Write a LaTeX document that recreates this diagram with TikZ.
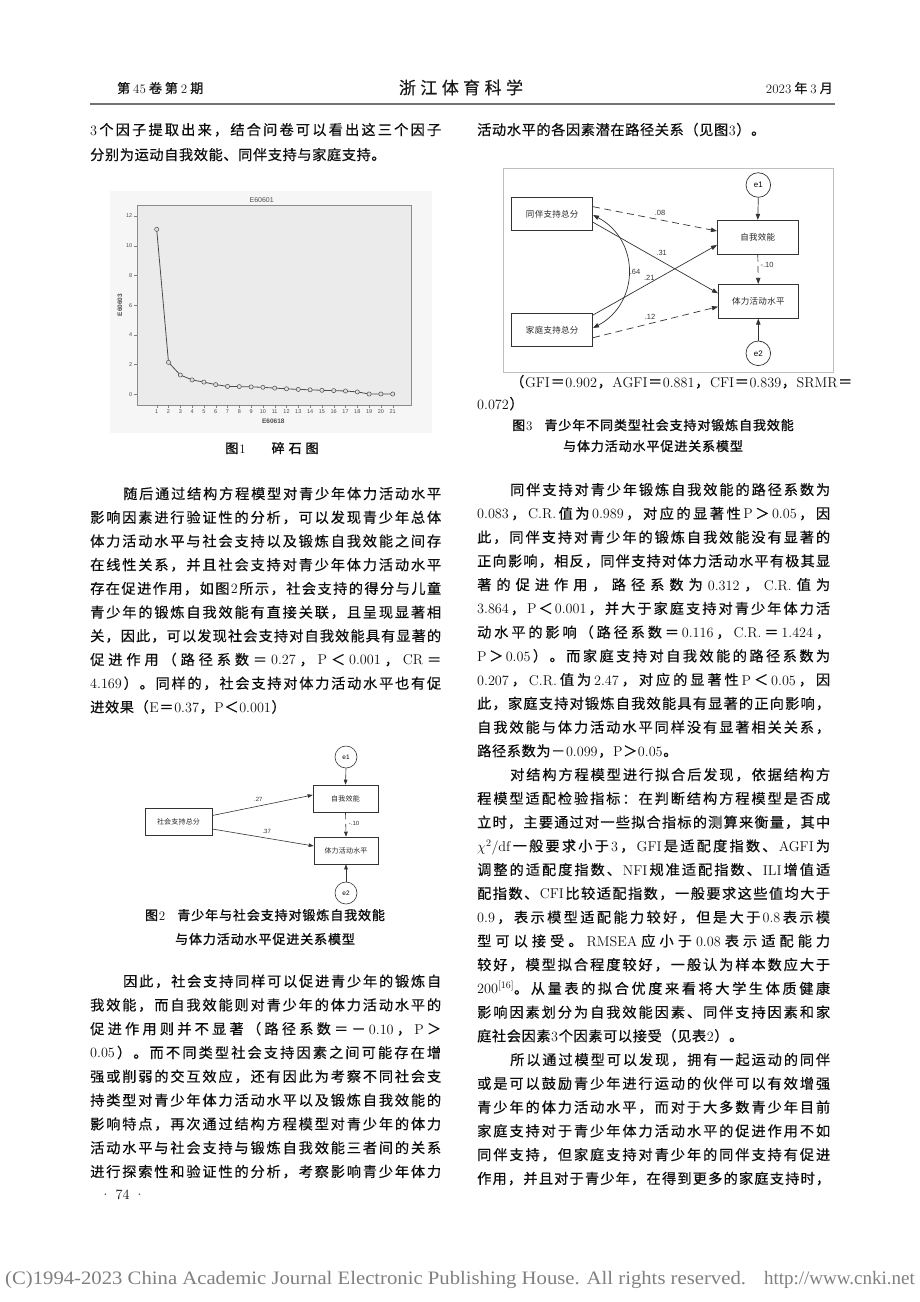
\documentclass[tikz,border=0pt]{standalone}
\usepackage{fontspec}
\usepackage{graphicx}
\usetikzlibrary{arrows.meta,calc}
\newfontfamily\cjk{Noto Sans CJK SC}[FakeBold=0.5]
\newfontfamily\cjkplain{Noto Sans CJK SC}
\newfontfamily\cjkcap{Noto Sans CJK SC}[FakeBold=1.3]
\newfontfamily\arialf{Liberation Sans}
\newfontfamily\timesf{Liberation Serif}
% --- automatic CJK / Latin font switching with stretchable inter-character glue
\XeTeXinterchartokenstate=1
\chardef\cjkcls=50
\newcount\ccnt
\ccnt="3000 \loop\XeTeXcharclass\ccnt=\cjkcls \advance\ccnt by 1 \ifnum\ccnt<"3040 \repeat
\ccnt="4E00 \loop\XeTeXcharclass\ccnt=\cjkcls \advance\ccnt by 1 \ifnum\ccnt<"A000 \repeat
\ccnt="FF00 \loop\XeTeXcharclass\ccnt=\cjkcls \advance\ccnt by 1 \ifnum\ccnt<"FFF0 \repeat
\newdimen\cjkgapd \cjkgapd=0.6pt
\def\cjkf{\cjk}
\def\latf{\rmfamily}
\XeTeXinterchartoks\cjkcls\cjkcls={\hskip\cjkgapd plus 1fil\relax}
\XeTeXinterchartoks 0 \cjkcls={\hskip\cjkgapd plus 1fil\relax\cjkf}
\XeTeXinterchartoks\cjkcls 0 ={\hskip\cjkgapd plus 1fil\relax\latf}
\XeTeXinterchartoks 4095 \cjkcls={\cjkf}
\XeTeXinterchartoks\cjkcls 4095 ={\latf}
\newcount\lnc
\newcommand\bodyfont{\fontsize{14.2}{17}\selectfont}
\newcommand\capfont{\fontsize{13}{15}\selectfont\def\cjkf{\cjkcap}\cjkgapd=0.9pt}
\newcommand\hdfont{\fontsize{13}{15}\selectfont\def\cjkf{\cjkcap}\cjkgapd=3pt}
\newcommand\figcnA{\fontsize{7}{8}\selectfont\def\cjkf{\cjkplain}\cjkgapd=0.2pt}
\newcommand\figcnB{\fontsize{8.5}{10}\selectfont\def\cjkf{\cjkplain}\cjkgapd=0.3pt}
\newcommand\jl[4]{\global\advance\lnc by 1 \node[txt] (t\the\lnc) at (#1,#2+5) {\hbox to #3pt{#4}};}
\newcommand\nl[3]{\global\advance\lnc by 1 \node[txt] (t\the\lnc) at (#1,#2+5) {\hbox{#3}};}
\definecolor{plotbg}{HTML}{EBEBEB}
\definecolor{imgbg}{HTML}{F6F6F6}
\tikzset{
  txt/.style={anchor=base west,inner sep=0pt,text=black!95,font=\bodyfont},
  ctxt/.style={anchor=base,inner sep=0pt,text=black!95},
  fboxA/.style={draw=black!80,line width=0.6pt,inner sep=0pt,font=\figcnA,text=black!85},
  fboxB/.style={draw=black!80,line width=0.7pt,inner sep=0pt,font=\figcnB,text=black!85},
  ecircA/.style={draw=black!80,circle,line width=0.6pt,inner sep=0pt,minimum size=22pt,font=\arialf\fontsize{6.5}{7}\selectfont},
  ecircB/.style={draw=black!80,circle,line width=0.7pt,inner sep=0pt,minimum size=24.6pt,font=\arialf\fontsize{8}{9}\selectfont},
  arrA/.style={-{Triangle[length=5pt,width=3.6pt]},line width=0.6pt,draw=black!80},
  arrB/.style={-{Triangle[length=6pt,width=4.4pt]},line width=0.7pt,draw=black!80},
  dsh/.style={dash pattern=on 7pt off 4.5pt},
  labA/.style={inner sep=0pt,font=\arialf\fontsize{6}{7}\selectfont,text=black!80},
  labB/.style={inner sep=0pt,font=\arialf\fontsize{7.5}{8}\selectfont,text=black!80},
  scr/.style={inner sep=0pt,font=\arialf\fontsize{5.5}{6}\selectfont,text=black!70},
}
\begin{document}
\begin{tikzpicture}[x=1pt,y=-1pt]
\useasboundingbox (0,0) rectangle (920,1302);
\fill[white] (0,0) rectangle (920,1302);
% ---------------- header
\node[anchor=base west,inner sep=0pt,text=black!90] (hl) at (117,93) {\hdfont 第45卷第2期};
\node[anchor=base,inner sep=0pt,text=black!90] (ht) at (461,94) {\fontsize{17}{20}\selectfont\hbox to 124pt{浙江体育科学}};
\node[anchor=base east,inner sep=0pt,text=black!90] (hr) at (833,93) {\hdfont 2023年3月};
\draw[black!55,line width=1.2pt] (90,104) -- (835,104);
% ---------------- left column
\jl{90}{130}{351}{3个因子提取出来，结合问卷可以看出这三个因子}
\nl{90}{155}{分别为运动自我效能、同伴支持与家庭支持。}
% scree plot
\fill[imgbg] (110,191) rectangle (432,433);
\draw[black!45,fill=plotbg,line width=0.5pt] (137.3,205) rectangle (411.7,405);
\node[scr,font=\arialf\fontsize{7}{8}\selectfont] (st) at (261.7,200) {E60601};
\node[scr,font=\arialf\bfseries\fontsize{6.5}{8}\selectfont] (sx) at (273.3,421.7) {E60618};
\node[scr,font=\arialf\bfseries\fontsize{6.5}{8}\selectfont,rotate=90] (sy) at (120,305) {E60603};
\foreach \v in {0,2,...,12} {
  \draw[black!50,line width=0.4pt] (134,394.3-\v*14.86) -- (137.3,394.3-\v*14.86);
  \node[scr,anchor=east] (yt\v) at (132.5,394.3-\v*14.86) {\v};
}
\foreach \i in {1,...,21} {
  \draw[black!50,line width=0.4pt] (156.7+\i*11.8-11.8,405) -- (156.7+\i*11.8-11.8,408);
  \node[scr] (xt\i) at (156.7+\i*11.8-11.8,412) {\i};
}
\draw[black!70,line width=0.8pt] (156.7,229.35) -- (168.5,362.35) -- (180.3,375.0) -- (192.1,379.9) -- (203.9,382.1) -- (215.7,384.6) -- (227.5,386.4) -- (239.3,386.6) -- (251.1,386.9) -- (262.9,387.3) -- (274.7,388.1) -- (286.5,388.8) -- (298.3,389.4) -- (310.1,389.8) -- (321.9,390.3) -- (333.7,390.6) -- (345.5,391.0) -- (357.3,391.9) -- (369.1,394.0) -- (380.9,394.0) -- (392.7,394.0);
\foreach \x/\y in {156.7/229.35,168.5/362.35,180.3/375.0,192.1/379.9,203.9/382.1,215.7/384.6,227.5/386.4,239.3/386.6,251.1/386.9,262.9/387.3,274.7/388.1,286.5/388.8,298.3/389.4,310.1/389.8,321.9/390.3,333.7/390.6,345.5/391.0,357.3/391.9,369.1/394.0,380.9/394.0,392.7/394.0}
  \draw[black!70,fill=black!12,line width=0.5pt] (\x,\y) circle (2.1);
\node[ctxt,font=\capfont] (c1) at (272,453) {图1\hspace{26pt}{\cjkgapd=4pt 碎石图}};
% paragraph
\jl{123}{494}{318}{随后通过结构方程模型对青少年体力活动水平}
\jl{90}{517.7}{351}{影响因素进行验证性的分析，可以发现青少年总体}
\jl{90}{541.4}{351}{体力活动水平与社会支持以及锻炼自我效能之间存}
\jl{90}{565.1}{351}{在线性关系，并且社会支持对青少年体力活动水平}
\jl{90}{588.8}{351}{存在促进作用，如图2所示，社会支持的得分与儿童}
\jl{90}{612.5}{351}{青少年的锻炼自我效能有直接关联，且呈现显著相}
\jl{90}{636.2}{351}{关，因此，可以发现社会支持对自我效能具有显著的}
\jl{90}{659.9}{351}{促进作用（路径系数＝0.27，P＜0.001，CR＝}
\jl{90}{683.6}{351}{4.169）。同样的，社会支持对体力活动水平也有促}
\nl{90}{707.3}{进效果（E＝0.37，P＜0.001）}
% figure 2
\node[fboxA,minimum width=67pt,minimum height=27pt] (sg) at (178.5,821.5) {社会支持总分};
\node[fboxA,minimum width=65pt,minimum height=27pt] (se) at (345.5,798.5) {自我效能};
\node[fboxA,minimum width=64pt,minimum height=27pt] (sp) at (346,850.5) {体力活动水平};
\node[ecircA] (e1a) at (346,757) {e1};
\node[ecircA] (e2a) at (346,893) {e2};
\draw[arrA] ($(sg.east)+(0,-6)$) -- ($(se.west)+(0,-3.5)$);
\draw[arrA] ($(sg.east)+(0,7.5)$) -- ($(sp.west)+(0,-4.5)$);
\draw[arrA,dsh] (se.south) -- (sp.north);
\draw[arrA] (e1a.south) -- (se.north);
\draw[arrA] (e2a.north) -- (sp.south);
\node[labA] (l27) at (258.3,799.3) {.27};
\node[labA] (l37) at (266.7,831.7) {.37};
\node[labA] (l10a) at (354,823) {-.10};
\node[ctxt,font=\capfont] (c2a) at (265,920) {图2\hspace{12pt}青少年与社会支持对锻炼自我效能};
\node[ctxt,font=\capfont] (c2b) at (265,944) {与体力活动水平促进关系模型};
% paragraph
\jl{123}{981.5}{318}{因此，社会支持同样可以促进青少年的锻炼自}
\jl{90}{1005.3}{351}{我效能，而自我效能则对青少年的体力活动水平的}
\jl{90}{1029.1}{351}{促进作用则并不显著（路径系数＝－0.10，P＞}
\jl{90}{1052.9}{351}{0.05）。而不同类型社会支持因素之间可能存在增}
\jl{90}{1076.7}{351}{强或削弱的交互效应，还有因此为考察不同社会支}
\jl{90}{1100.5}{351}{持类型对青少年体力活动水平以及锻炼自我效能的}
\jl{90}{1124.3}{351}{影响特点，再次通过结构方程模型对青少年的体力}
\jl{90}{1148.1}{351}{活动水平与社会支持与锻炼自我效能三者间的关系}
\jl{90}{1171.9}{351}{进行探索性和验证性的分析，考察影响青少年体力}
\nl{100}{1194}{· 74 ·}
% ---------------- right column
\nl{477}{130}{活动水平的各因素潜在路径关系（见图3）。}
% figure 3
\draw[black!25,line width=0.5pt] (503,168) rectangle (833,372);
\node[fboxB,minimum width=81pt,minimum height=33.4pt] (tb) at (552.2,214) {同伴支持总分};
\node[fboxB,minimum width=81pt,minimum height=33.4pt] (jt) at (552.2,330) {家庭支持总分};
\node[fboxB,minimum width=81pt,minimum height=34pt] (zw) at (757.8,237.2) {自我效能};
\node[fboxB,minimum width=80pt,minimum height=34pt] (tl) at (758.3,301.3) {体力活动水平};
\node[ecircB] (e1b) at (758.3,185) {e1};
\node[ecircB] (e2b) at (758.3,353.3) {e2};
\draw[arrB,dsh] ($(tb.east)+(0,-7.3)$) -- ($(zw.west)+(0,-6.2)$);
\draw[arrB] ($(tb.east)+(0,8.3)$) -- ($(tl.west)+(0,-8)$);
\draw[arrB] ($(jt.east)+(0,-15)$) -- ($(zw.west)+(0,7.8)$);
\draw[arrB,dsh] ($(jt.east)+(0,7.7)$) -- ($(tl.west)+(0,5.4)$);
\draw[{Triangle[length=6pt,width=4.4pt]}-{Triangle[length=6pt,width=4.4pt]},line width=0.7pt,draw=black!80]
  ($(tb.east)+(0,1)$) .. controls (640,240) and (640,303) .. ($(jt.east)+(0,-2)$);
\draw[arrB,dsh] (zw.south) -- (tl.north);
\draw[arrB] (e1b.south) -- (zw.north);
\draw[arrB] (e2b.north) -- (tl.south);
\node[labB] (l08) at (660,213.3) {.08};
\node[labB] (l31) at (661.7,253.3) {.31};
\node[labB] (l21) at (649.3,277.7) {.21};
\node[labB] (l12) at (650,316.7) {.12};
\node[labB] (l64) at (635,272.3) {.64};
\node[labB] (l10b) at (767,265) {-.10};
\jl{510}{382}{320}{（GFI＝0.902，AGFI＝0.881，CFI＝0.839，SRMR＝}
\nl{477}{404}{0.072）}
\node[ctxt,font=\capfont] (c3a) at (653,430) {图3\hspace{12pt}青少年不同类型社会支持对锻炼自我效能};
\node[ctxt,font=\capfont] (c3b) at (653,451) {与体力活动水平促进关系模型};
% paragraphs
\jl{510}{490}{320}{同伴支持对青少年锻炼自我效能的路径系数为}
\jl{477}{513.75}{353}{0.083，C.R.值为0.989，对应的显著性P＞0.05，因}
\jl{477}{537.5}{353}{此，同伴支持对青少年的锻炼自我效能没有显著的}
\jl{477}{561.25}{353}{正向影响，相反，同伴支持对体力活动水平有极其显}
\jl{477}{585}{353}{著的促进作用，路径系数为0.312，C.R.值为}
\jl{477}{608.75}{353}{3.864，P＜0.001，并大于家庭支持对青少年体力活}
\jl{477}{632.5}{353}{动水平的影响（路径系数＝0.116，C.R.＝1.424，}
\jl{477}{656.25}{353}{P＞0.05）。而家庭支持对自我效能的路径系数为}
\jl{477}{680}{353}{0.207，C.R.值为2.47，对应的显著性P＜0.05，因}
\jl{477}{703.75}{353}{此，家庭支持对锻炼自我效能具有显著的正向影响，}
\jl{477}{727.5}{353}{自我效能与体力活动水平同样没有显著相关关系，}
\nl{477}{751.25}{路径系数为－0.099，P＞0.05。}
\jl{510}{775}{320}{对结构方程模型进行拟合后发现，依据结构方}
\jl{477}{798.75}{353}{程模型适配检验指标：在判断结构方程模型是否成}
\jl{477}{822.5}{353}{立时，主要通过对一些拟合指标的测算来衡量，其中}
\jl{477}{846.25}{353}{$\chi^2$/df一般要求小于3，GFI是适配度指数、AGFI为}
\jl{477}{870}{353}{调整的适配度指数、NFI规准适配指数、ILI增值适}
\jl{477}{893.75}{353}{配指数、CFI比较适配指数，一般要求这些值均大于}
\jl{477}{917.5}{353}{0.9，表示模型适配能力较好，但是大于0.8表示模}
\jl{477}{941.25}{353}{型可以接受。RMSEA应小于0.08表示适配能力}
\jl{477}{965}{353}{较好，模型拟合程度较好，一般认为样本数应大于}
\jl{477}{988.75}{353}{200\textsuperscript{[16]}。从量表的拟合优度来看将大学生体质健康}
\jl{477}{1012.5}{353}{影响因素划分为自我效能因素、同伴支持因素和家}
\nl{477}{1036.25}{庭社会因素3个因素可以接受（见表2）。}
\jl{510}{1060}{320}{所以通过模型可以发现，拥有一起运动的同伴}
\jl{477}{1083.75}{353}{或是可以鼓励青少年进行运动的伙伴可以有效增强}
\jl{477}{1107.5}{353}{青少年的体力活动水平，而对于大多数青少年目前}
\jl{477}{1131.25}{353}{家庭支持对于青少年体力活动水平的促进作用不如}
\jl{477}{1155}{353}{同伴支持，但家庭支持对青少年的同伴支持有促进}
\jl{477}{1178.75}{353}{作用，并且对于青少年，在得到更多的家庭支持时，}
% ---------------- footer
\node[anchor=base west,inner sep=0pt,text=black!50,font=\timesf\fontsize{19}{22}\selectfont] (fl) at (5,1284) {\scalebox{1.09}[1]{(C)1994-2023 China Academic Journal Electronic Publishing House. All rights reserved.}};
\node[anchor=base east,inner sep=0pt,text=black!50,font=\timesf\fontsize{19}{22}\selectfont] (fr) at (915,1284) {http://www.cnki.net};
\end{tikzpicture}
\end{document}
